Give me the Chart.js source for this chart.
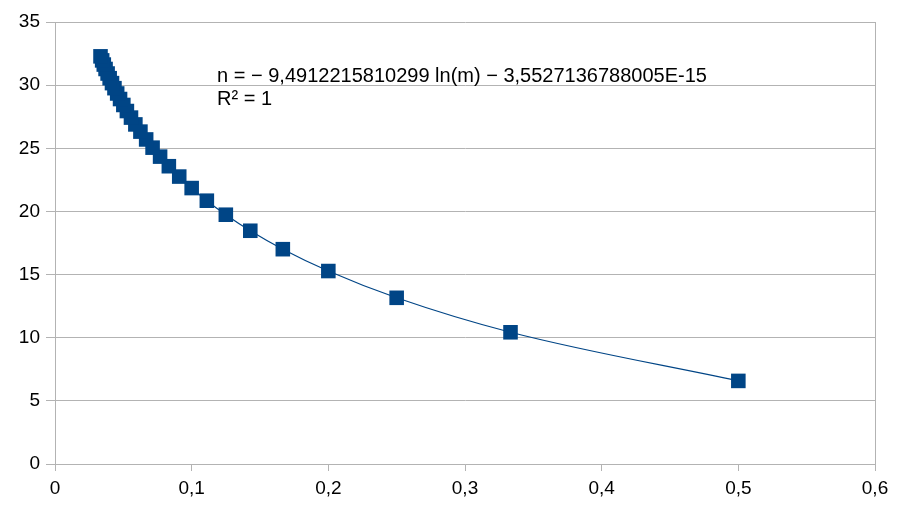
<!DOCTYPE html>
<html>
<head>
<meta charset="utf-8">
<script src="https://cdn.jsdelivr.net/npm/chart.js@4"></script>
<style>
  html, body { margin: 0; padding: 0; background: #fff; }
  #wrap { width: 908px; height: 511px; }
</style>
</head>
<body>
<div id="wrap"><canvas id="chart" width="908" height="511"></canvas></div>
<script>
// m values (x) and n values (y)
const mValues = [0.5, 0.3333, 0.25, 0.2, 0.1667, 0.1429, 0.125, 0.1111, 0.1, 0.0909,
    0.0833, 0.0769, 0.0714, 0.0667, 0.0625, 0.0588, 0.0556, 0.0526, 0.05, 0.0476,
    0.0455, 0.0435, 0.0417, 0.04, 0.0385, 0.037, 0.0357, 0.0345, 0.0333];
const nValues = [6.58, 10.43, 13.16, 15.28, 17.01, 18.47, 19.74, 20.85, 21.85, 22.76,
    23.58, 24.34, 25.05, 25.70, 26.32, 26.89, 27.43, 27.95, 28.43, 28.90,
    29.34, 29.76, 30.16, 30.55, 30.92, 31.28, 31.63, 31.96, 32.28];
const xTicks = [0, 0.1, 0.2, 0.3, 0.4, 0.5, 0.6];
const yTicks = [0, 5, 10, 15, 20, 25, 30, 35];
const trendLines = ['n = \u2212 9,4912215810299 ln(m) \u2212 3,5527136788005E-15', 'R\u00B2 = 1'];

const BLUE = '#004586';
const GRID = '#b3b3b3';
const FONT = "'Liberation Sans', Arial, sans-serif";

const points = mValues.map((m, i) => ({ x: m, y: nValues[i] }));

// equation text of the trend line
const equationLabel = {
    id: 'equationLabel',
    afterDatasetsDraw(chart) {
        const ctx = chart.ctx;
        const x = chart.scales.x.getPixelForValue(0.1186);
        ctx.save();
        ctx.font = '20px ' + FONT;
        ctx.fillStyle = '#000';
        ctx.textBaseline = 'alphabetic';
        ctx.fillText(trendLines[0], x, 82);
        ctx.fillText(trendLines[1], x, 105);
        ctx.restore();
    }
};

new Chart(document.getElementById('chart'), {
    type: 'scatter',
    data: {
        datasets: [{
            label: 'n',
            data: points,
            pointStyle: 'rect',
            pointRadius: 10.3,
            pointHoverRadius: 10.3,
            backgroundColor: BLUE,
            borderColor: BLUE,
            borderWidth: 0,
            showLine: false,
            order: 1
        }, {
            label: 'trend',
            data: points,
            showLine: true,
            pointRadius: 0,
            borderColor: BLUE,
            borderWidth: 1.2,
            cubicInterpolationMode: 'monotone',
            order: 2
        }]
    },
    options: {
        responsive: false,
        animation: false,
        events: [],
        layout: { padding: { top: 22, right: 33, left: 0, bottom: 0 } },
        plugins: {
            legend: { display: false },
            tooltip: { enabled: false }
        },
        scales: {
            x: {
                type: 'linear',
                min: 0,
                max: 0.6,
                afterBuildTicks: scale => { scale.ticks = xTicks.map(v => ({ value: v })); },
                afterFit: scale => { scale.height = 47; },
                border: { display: true, color: GRID, width: 1 },
                grid: {
                    color: c => (c.tick && c.tick.value === 0.6 ? GRID : 'rgba(0,0,0,0)'),
                    tickColor: GRID,
                    tickLength: 7,
                    drawTicks: true
                },
                ticks: {
                    color: '#000',
                    padding: 6,
                    maxRotation: 0,
                    font: { family: FONT, size: 19 },
                    callback: v => String(Math.round(v * 10) / 10).replace('.', ',')
                }
            },
            y: {
                type: 'linear',
                min: 0,
                max: 35,
                afterBuildTicks: scale => { scale.ticks = yTicks.map(v => ({ value: v })); },
                afterFit: scale => { scale.width = 55; },
                border: { display: true, color: GRID, width: 1 },
                grid: { color: GRID, tickColor: GRID, tickLength: 9 },
                ticks: {
                    color: '#000',
                    padding: 6,
                    font: { family: FONT, size: 19 }
                }
            }
        }
    },
    plugins: [equationLabel]
});
</script>
</body>
</html>
